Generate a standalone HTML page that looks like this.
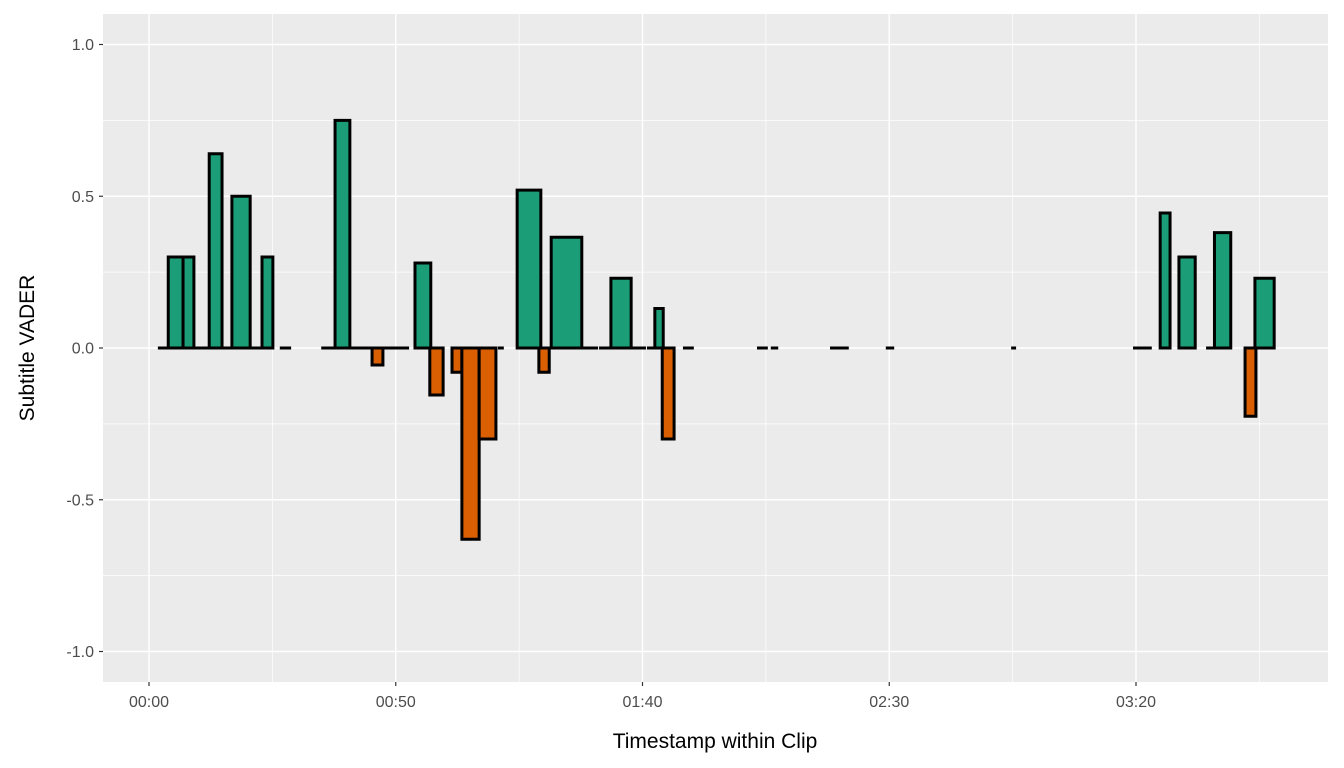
<!DOCTYPE html>
<html><head><meta charset="utf-8"><style>
html,body{margin:0;padding:0;background:#fff;}
svg{display:block;font-family:"Liberation Sans",Arial,sans-serif;}
</style></head><body>
<svg id="chart" width="1344" height="768" viewBox="0 0 1344 768">
<rect x="103" y="14" width="1225" height="668" fill="#EBEBEB"/>
<g id="grid"></g><g id="bars"></g><g id="axes"></g>
<text x="715" y="748" text-anchor="middle" font-size="21" fill="#000">Timestamp within Clip</text>
<text transform="translate(34,348) rotate(-90)" text-anchor="middle" font-size="21" fill="#000">Subtitle VADER</text>
</svg>
<script>
const starts = [1.8,3.9,6.9,9.1,12.2,14.8,16.8,20.5,22.9,26.5,34.9,37.7,40.7,45.2,47.4,53.9,56.9,61.4,63.4,66.9,70.7,74.6,79.0,79.4,81.5,87.7,91.2,93.6,97.7,100.9,102.5,104.0,108.2,123.2,126.0,138.0,149.3,174.7,199.4,204.9,208.7,214.2,215.9,222.1,224.1];
const ends   = [3.9,6.9,9.1,12.2,14.8,16.8,20.5,22.9,25.1,28.8,37.7,40.7,45.2,47.4,52.7,57.1,59.6,63.4,66.9,70.3,71.9,79.4,81.1,81.5,87.7,91.0,93.6,97.7,100.7,102.7,104.2,106.4,110.4,125.4,127.5,141.8,151.0,175.7,203.2,206.9,212.0,215.9,219.2,224.3,228.0];
const values = [0,0.30,0.30,0,0.64,0,0.50,0,0.30,0,0,0.75,0,-0.056,0,0.28,-0.155,-0.08,-0.63,-0.30,0,0.52,-0.08,0,0.365,0,0,0.23,0,0,0.13,-0.30,0,0,0,0,0,0,0,0.445,0.30,0,0.38,-0.225,0.23];
const xTicks = [0,50,100,150,200];
const xTickLabels = ["00:00","00:50","01:40","02:30","03:20"];
const yTicks = [-1,-0.5,0,0.5,1];
const yTickLabels = ["-1.0","-0.5","0.0","0.5","1.0"];

const X = s => 149 + s*4.935;
const Y = v => 348 - v*303.5;
const NS="http://www.w3.org/2000/svg";
function mk(tag, attrs, parent){const e=document.createElementNS(NS,tag);for(const k in attrs)e.setAttribute(k,attrs[k]);parent.appendChild(e);return e;}
const grid=document.getElementById('grid'), bars=document.getElementById('bars'), axes=document.getElementById('axes');
for(let i=0;i<xTicks.length;i++){const m=xTicks[i]+25;const l=mk('line',{x1:X(m),x2:X(m),y1:14,y2:682,stroke:'#fff','stroke-width':0.7},grid);

}
for(let i=0;i<yTicks.length-1;i++){const m=(yTicks[i]+yTicks[i+1])/2;const l=mk('line',{x1:103,x2:1328,y1:Y(m),y2:Y(m),stroke:'#fff','stroke-width':0.7},grid);

}
xTicks.forEach((t,i)=>{const l=mk('line',{x1:X(t),x2:X(t),y1:14,y2:682,stroke:'#fff','stroke-width':1.4},grid);


const tk=mk('line',{x1:X(t),x2:X(t),y1:682,y2:686,stroke:'#333','stroke-width':1.2},axes);


const tx=mk('text',{x:X(t),y:707,'text-anchor':'middle','font-size':16,fill:'#4D4D4D'},axes);tx.textContent=xTickLabels[i];

});
yTicks.forEach((t,i)=>{const l=mk('line',{x1:103,x2:1328,y1:Y(t),y2:Y(t),stroke:'#fff','stroke-width':1.4},grid);


const tk=mk('line',{x1:99,x2:103,y1:Y(t),y2:Y(t),stroke:'#333','stroke-width':1.2},axes);


const tx=mk('text',{x:94,y:Y(t)+5.5,'text-anchor':'end','font-size':16,fill:'#4D4D4D'},axes);tx.textContent=yTickLabels[i];

});
for(let i=0;i<values.length;i++){
  const x0=X(starts[i]),x1=X(ends[i]),y0=Y(0),y1=Y(values[i]);
  const p=mk('path',{d:`M${x0} ${y0}H${x1}V${y1}H${x0}Z`,fill:values[i]<0?'#D95F02':'#1B9E77',stroke:'#000','stroke-width':3,'stroke-linejoin':'miter'},bars);
  
  
}
</script>
</body></html>
